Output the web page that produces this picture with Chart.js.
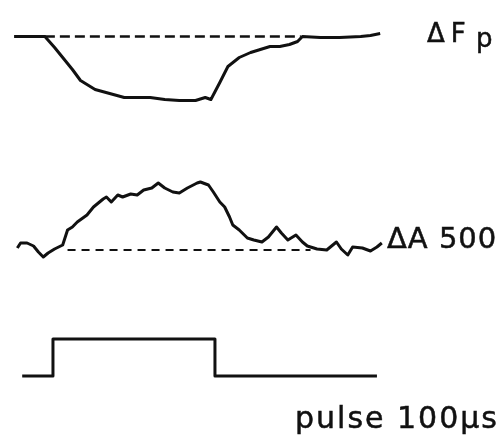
<!DOCTYPE html>
<html>
<head>
<meta charset="utf-8">
<script src="https://cdn.jsdelivr.net/npm/chart.js@4.4.1/dist/chart.umd.min.js"></script>
<style>
  html, body { margin: 0; padding: 0; background: #fff; }
  #wrap { position: relative; width: 502px; height: 441px; overflow: hidden; }
  #c { position: absolute; left: 0; top: 0; }
  .lbl { position: absolute; font-family: "DejaVu Sans", sans-serif; color: #111; line-height: 1; white-space: nowrap; -webkit-text-stroke: 0.5px #111; }
</style>
</head>
<body>
<div id="wrap">
  <canvas id="c" width="502" height="441"></canvas>
  <div class="lbl" style="left:427px; top:20px; font-size:26px; letter-spacing:6px;">ΔF</div>
  <div class="lbl" style="left:476px; top:25px; font-size:26px;">p</div>
  <div class="lbl" style="left:387px; top:224px; font-size:29px; letter-spacing:1px;">ΔA 500</div>
  <div class="lbl" style="left:295px; top:403px; font-size:30px; letter-spacing:2px;">pulse 100µs</div>
</div>
<script>
// Time axis in microseconds (pulse starts at t = 0 and lasts 100 µs)
const fpTime = [-24, -5, 1, 7, 12, 17, 26, 35, 44, 54, 60, 69, 78, 88, 94, 97.5, 103, 108, 115, 122, 128, 134, 140, 146, 151, 154, 165, 177, 190, 196, 202];
// ΔFp deflection (arbitrary units, downward = negative)
const fpValues = [0, 0, -11, -23, -33, -44, -53, -57, -61, -61, -61, -63, -64, -64, -61, -63, -46, -30, -21, -16, -13, -10, -10, -8, -5, 0, -1, -1, 0, 1, 3];

const a500Time = [-22, -20, -16, -12, -9, -6, -3, 1, 6, 9, 12, 15, 21, 25, 28, 31, 33, 36, 40, 43, 48, 52, 56, 61, 65, 69, 74, 78, 83, 89, 91, 96, 99, 103, 106, 109, 111, 115, 120, 124, 129, 133, 138, 141, 145, 150, 154, 157, 163, 169, 175, 178, 182, 185, 191, 196, 200, 203];
// ΔA 500 deflection (arbitrary units, upward = positive)
const a500Values = [2, 7, 7, 4, -2, -7, -3, 1, 5, 20, 23, 28, 35, 43, 47, 51, 53, 48, 55, 53, 56, 55, 60, 62, 67, 62, 58, 57, 62, 67, 68, 65, 58, 48, 43, 33, 25, 20, 12, 10, 8, 13, 23, 17, 10, 15, 8, 4, 1, 0, 8, 1, -5, 3, 2, -1, 3, 7];

// Pulse (off = 0, on = 1)
const pulseTime = [-19, 0, 0, 100, 100, 200];
const pulseValues = [0, 0, 1, 1, 0, 0];

// Dashed baselines (time spans)
const fpBaseTime = [-5, 153];
const a500BaseTime = [9, 159];

const pts = (xs, ys) => xs.map((x, i) => ({ x: x, y: ys[i] }));
const base = (xs) => xs.map(x => ({ x: x, y: 0 }));

const ink = '#111';
new Chart(document.getElementById('c'), {
  type: 'line',
  data: {
    datasets: [
      { data: pts(fpTime, fpValues), yAxisID: 'yF', borderColor: ink, borderWidth: 3, pointRadius: 0, tension: 0 },
      { data: base(fpBaseTime), yAxisID: 'yF', borderColor: ink, borderWidth: 2.5, borderDash: [10, 5], pointRadius: 0 },
      { data: pts(a500Time, a500Values), yAxisID: 'yA', borderColor: ink, borderWidth: 3, pointRadius: 0, tension: 0 },
      { data: base(a500BaseTime), yAxisID: 'yA', borderColor: ink, borderWidth: 2.2, borderDash: [8, 6], pointRadius: 0 },
      { data: pts(pulseTime, pulseValues), yAxisID: 'yP', borderColor: ink, borderWidth: 3, pointRadius: 0, tension: 0 }
    ]
  },
  options: {
    responsive: false,
    animation: false,
    layout: { padding: 0 },
    plugins: { legend: { display: false }, tooltip: { enabled: false } },
    elements: { line: { borderCapStyle: 'butt', borderJoinStyle: 'round' } },
    scales: {
      x: { type: 'linear', min: -32.7, max: 277.2, display: false },
      yF: { type: 'linear', min: -404.5, max: 36.5, display: false },
      yA: { type: 'linear', min: -191, max: 250, display: false },
      yP: { type: 'linear', min: -1.757, max: 10.16, display: false }
    }
  }
});
</script>
</body>
</html>
